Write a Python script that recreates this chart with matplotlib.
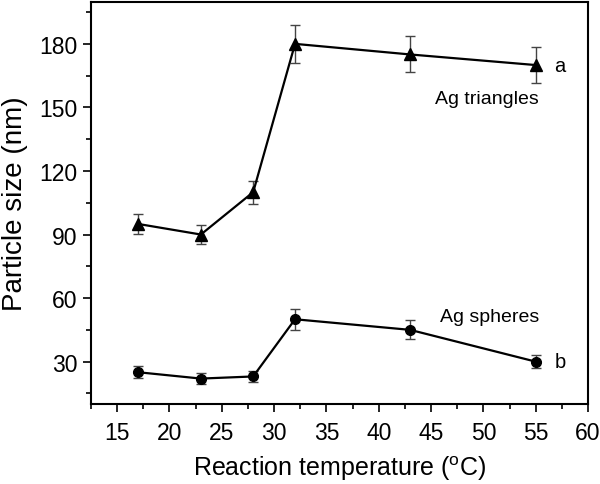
import matplotlib
matplotlib.use("Agg")
import matplotlib.pyplot as plt
from matplotlib.ticker import MultipleLocator

plt.rcParams['font.family'] = ['Liberation Sans', 'DejaVu Sans']

temperature = [17, 23, 28, 32, 43, 55]
triangles = [95, 90, 110, 180, 175, 170]
triangles_err = [4.7, 4.3, 5.5, 8.8, 8.5, 8.5]
spheres = [25, 22, 23, 50, 45, 30]
spheres_err = [2.8, 2.5, 2.5, 5.0, 4.5, 3.0]

x_ticks = [15, 20, 25, 30, 35, 40, 45, 50, 55, 60]
y_ticks = [30, 60, 90, 120, 150, 180]

fig = plt.figure(figsize=(6.0, 4.85), dpi=100)
ax = fig.add_axes([91/600, 1 - 405/485, (588 - 91)/600, (405 - 2.5)/485])

ax.errorbar(temperature, triangles, yerr=triangles_err, fmt='none',
            ecolor='#444444', elinewidth=1.0, capsize=3.5, capthick=1.0, zorder=1)
ax.plot(temperature, triangles, color='black', lw=1.6, marker='^',
        markersize=8, zorder=2)
ax.errorbar(temperature, spheres, yerr=spheres_err, fmt='none',
            ecolor='#444444', elinewidth=1.0, capsize=3.5, capthick=1.0, zorder=1)
ax.plot(temperature, spheres, color='black', lw=1.6, marker='o',
        markersize=7, zorder=2)

ax.text(56.8, 170, 'a', fontsize=14.5, va='center', ha='left')
ax.text(56.8, 30, 'b', fontsize=14.5, va='center', ha='left')
ax.text(50.3, 154, 'Ag triangles', fontsize=14, va='center', ha='center')
ax.text(50.6, 51.5, 'Ag spheres', fontsize=14, va='center', ha='center')

ax.set_xlim(12.5, 60)
ax.set_ylim(10, 200)
ax.set_xticks(x_ticks)
ax.set_yticks(y_ticks)
ax.xaxis.set_minor_locator(MultipleLocator(2.5))
ax.yaxis.set_minor_locator(MultipleLocator(15))
ax.tick_params(which='major', direction='out', length=6, width=1.2,
               labelsize=16.5, top=False, right=False)
ax.tick_params(axis='x', which='major', pad=6)
ax.tick_params(which='minor', direction='out', length=3.5, width=1.2,
               top=False, right=False)
for s in ax.spines.values():
    s.set_linewidth(1.5)

ax.set_xlabel('Reaction temperature ($\\mathregular{^{o}}$C)', fontsize=18, labelpad=7)
ax.set_ylabel('Particle size (nm)', fontsize=20, labelpad=8)

fig.savefig('out.png', dpi=100)
